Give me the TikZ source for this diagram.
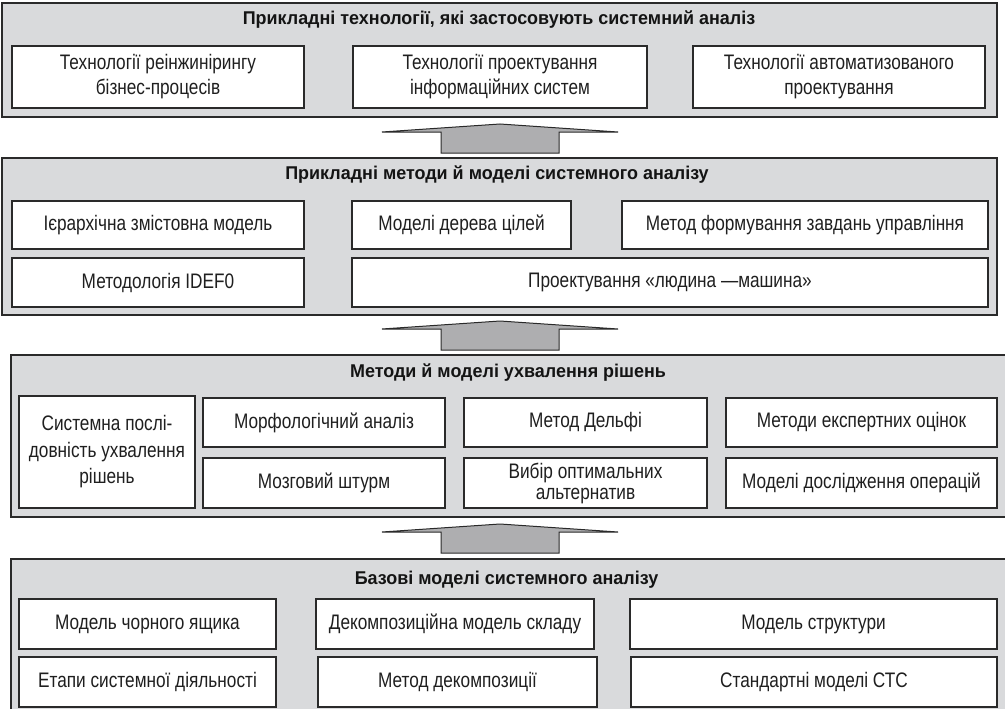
\documentclass[tikz,border=0pt]{standalone}
\usepackage{fontspec}
\setmainfont{Liberation Sans}[FakeStretch=0.82, BoldFeatures={FakeStretch=0.97}]
\definecolor{panelgray}{HTML}{D9DADC}
\definecolor{arrowgray}{HTML}{AEAEB0}
\definecolor{inkgray}{HTML}{2A2A2A}
\newcommand\cellfont{\fontsize{21}{25}\selectfont}
\newcommand\titlefont{\fontsize{18.5}{20}\selectfont\bfseries}
\begin{document}
\begin{tikzpicture}[x=1pt,y=-1pt,
  panel/.style={draw=inkgray, line width=1.6pt, fill=panelgray, inner sep=0pt, outer sep=0pt},
  cell/.style={draw=inkgray, line width=1.3pt, fill=white, inner sep=2pt, align=center,
    font=\cellfont, text=black!88},
  ttl/.style={font=\titlefont, text=black!92, inner sep=0pt},
  blockarrow/.style={draw=inkgray, line width=1pt, fill=arrowgray, line join=miter},
  uparrow/.pic={\path[blockarrow] (-118,8) -- (0,0) -- (118,8) -- (59,8) -- (59,29)
      -- (-59,29) -- (-59,8) -- cycle;}
]
\useasboundingbox (0,0) rectangle (1005,709);
\fill[white] (0,0) rectangle (1005,709);
\begin{scope}
\clip (0,0) rectangle (1005,709);

% ---- level 1: applied technologies
\node[panel, minimum width=995pt, minimum height=114pt] (L1) at (499.5,60) {};
\node[ttl] (T1) at (499,20) {Прикладні технології, які застосовують системний аналіз};
\node[cell, minimum width=292pt, minimum height=62pt] (a1) at (158,77)
  {Технології реінжинірингу\\бізнес-процесів};
\node[cell, minimum width=294pt, minimum height=62pt] (a2) at (500,77)
  {Технології проектування\\інформаційних систем};
\node[cell, minimum width=292pt, minimum height=62pt] (a3) at (839,77)
  {Технології автоматизованого\\проектування};

\pic at (500,124) {uparrow};

% ---- level 2: applied methods and models
\node[panel, minimum width=995pt, minimum height=157pt] (L2) at (499.5,236.5) {};
\node[ttl] (T2) at (497,175) {Прикладні методи й моделі системного аналізу};
\node[cell, minimum width=292pt, minimum height=48pt] (b1) at (158,225)
  {Ієрархічна змістовна модель};
\node[cell, minimum width=219pt, minimum height=48pt] (b2) at (461.5,225)
  {Моделі дерева цілей};
\node[cell, minimum width=366pt, minimum height=48pt] (b3) at (805,225)
  {Метод формування завдань управління};
\node[cell, minimum width=292pt, minimum height=49pt] (b4) at (158,282.5)
  {Методологія IDEF0};
\node[cell, minimum width=636pt, minimum height=49pt] (b5) at (670,282.5)
  {Проектування «людина —машина»};

\pic at (500,321) {uparrow};

% ---- level 3: decision-making methods
\node[panel, minimum width=1010pt, minimum height=162pt] (L3) at (516,436) {};
\node[ttl] (T3) at (508,373) {Методи й моделі ухвалення рішень};
\node[cell, minimum width=176pt, minimum height=112pt, font=\fontsize{21}{26.5}\selectfont] (c1) at (107,452)
  {Системна послі-\\довність ухвалення\\рішень};
\node[cell, minimum width=242pt, minimum height=49pt] (c2) at (324,422.5)
  {Морфологічний аналіз};
\node[cell, minimum width=242pt, minimum height=50pt] (c3) at (324,483)
  {Мозговий штурм};
\node[cell, minimum width=243pt, minimum height=49pt] (c4) at (585.5,422.5)
  {Метод Дельфі};
\node[cell, minimum width=243pt, minimum height=50pt, font=\fontsize{21}{21}\selectfont] (c5) at (585.5,483)
  {Вибір оптимальних\\альтернатив};
\node[cell, minimum width=271pt, minimum height=49pt] (c6) at (861.5,422.5)
  {Методи експертних оцінок};
\node[cell, minimum width=271pt, minimum height=50pt] (c7) at (861.5,483)
  {Моделі дослідження операцій};

\pic at (500,524) {uparrow};

% ---- level 4: basic models
\node[panel, minimum width=1010pt, minimum height=170pt] (L4) at (516,644) {};
\node[ttl] (T4) at (506.5,580) {Базові моделі системного аналізу};
\node[cell, minimum width=257pt, minimum height=50pt] (d1) at (147.5,624)
  {Модель чорного ящика};
\node[cell, minimum width=278pt, minimum height=50pt] (d2) at (455,624)
  {Декомпозиційна модель складу};
\node[cell, minimum width=367pt, minimum height=50pt] (d3) at (813.5,624)
  {Модель структури};
\node[cell, minimum width=257pt, minimum height=50pt] (d4) at (147.5,682)
  {Етапи системної діяльності};
\node[cell, minimum width=279pt, minimum height=50pt] (d5) at (457.5,682)
  {Метод декомпозиції};
\node[cell, minimum width=366pt, minimum height=50pt] (d6) at (814,682)
  {Стандартні моделі СТС};
\end{scope}
\end{tikzpicture}
\end{document}
